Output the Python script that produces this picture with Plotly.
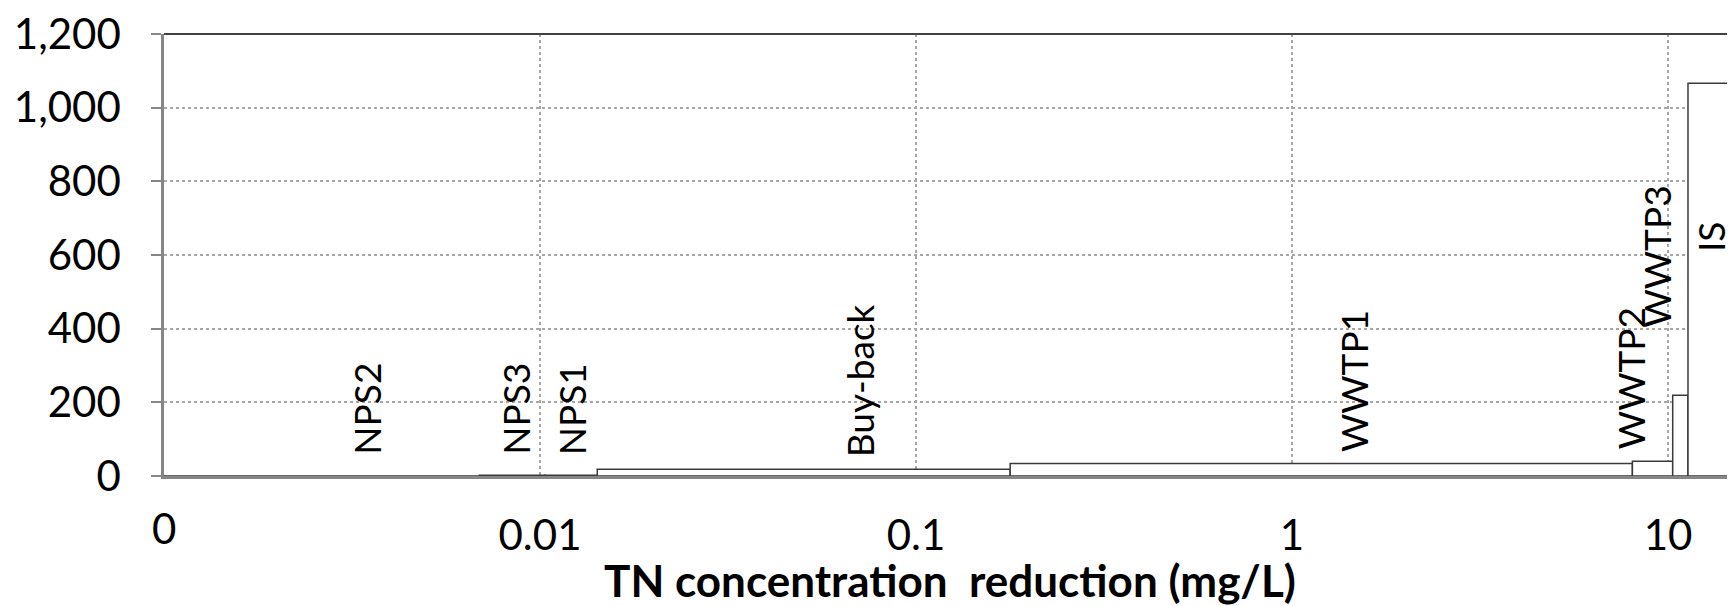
import math
import plotly.graph_objects as go

# ---------------- data ----------------
names = ["NPS2", "NPS3", "NPS1", "Buy-back", "WWTP1", "WWTP2", "WWTP3", "IS"]
cum_reduction = [0.0069, 0.0103, 0.0142, 0.178, 8.04, 10.29, 11.3, 15.07]   # mg/L, cumulative
unit_cost = [0, 2, 2, 18, 34, 40, 219, 1066]
label_x = [0.00346, 0.00862, 0.01219, 0.0705, 1.462, 7.96, 9.33, 12.99]
label_y = [182, 182, 182, 260, 258, 265, 595, 648]
x_tickvals = [0.01, 0.1, 1, 10]
x_ticktext = ["0.01", "0.1", "1", "10"]
y_tickvals = [0, 200, 400, 600, 800, 1000, 1200]
X_MIN = 0.001          # left end of the log axis, labelled "0"
X_MAX = 15.07
x_title = "TN concentration \u00a0reduction (mg/L)"

FONT = "Lato, 'Open Sans', sans-serif"
GRID = "#a6a6a6"
AXIS = "#868686"
EDGE = "#3a3a3a"
TICK_SIZE = 42

fig = go.Figure()

for i, name in enumerate(names):
    x0 = cum_reduction[i - 1] if i > 0 else X_MIN
    x1 = cum_reduction[i]
    v = unit_cost[i]
    fig.add_trace(go.Scatter(
        x=[x0, x0, x1, x1, x0], y=[0, v, v, 0, 0],
        mode="lines", fill="toself", fillcolor="white",
        line=dict(color=EDGE, width=1.5),
        name=name, showlegend=False, hoverinfo="skip"))

for name, lx, ly in zip(names, label_x, label_y):
    fig.add_annotation(x=math.log10(lx), y=ly, xref="x", yref="y",
                       text=name, textangle=-90, showarrow=False,
                       xanchor="center", yanchor="middle",
                       font=dict(family=FONT, size=37, color="black"))

# "0" label at the left end of the log axis
fig.add_annotation(x=math.log10(X_MIN), y=-0.118, xref="x", yref="paper",
                   text="0", showarrow=False, xanchor="center", yanchor="middle",
                   font=dict(family=FONT, size=TICK_SIZE, color="black"))

# x-axis title
fig.add_annotation(x=0.5, y=-0.236, xref="paper", yref="paper",
                   text=x_title, showarrow=False, xanchor="center", yanchor="middle",
                   font=dict(family=FONT, size=44, color="black", weight="bold"))

# top border line
fig.add_shape(type="line", xref="paper", yref="paper", x0=0, x1=1, y0=1, y1=1,
              line=dict(color="#404040", width=2))

fig.update_layout(
    width=1727, height=598,
    margin=dict(l=156, r=0, t=17, b=130),
    paper_bgcolor="white", plot_bgcolor="white",
    font=dict(family=FONT, color="black"),
    xaxis=dict(type="log", range=[math.log10(X_MIN), math.log10(X_MAX)],
               tickvals=x_tickvals, ticktext=x_ticktext,
               showgrid=True, gridcolor=GRID, griddash="dot", gridwidth=1.5,
               showline=True, linecolor=AXIS, linewidth=2.5,
               ticks="", ticklabelstandoff=21, ticklabeloverflow="allow",
               tickfont=dict(family=FONT, size=TICK_SIZE, color="black"),
               zeroline=False),
    yaxis=dict(range=[0, 1200], tickvals=y_tickvals, tickformat=",",
               showgrid=True, gridcolor=GRID, griddash="dot", gridwidth=1.5,
               showline=True, linecolor=AXIS, linewidth=2.5,
               ticks="outside", ticklen=10, tickcolor=AXIS, tickwidth=2,
               ticklabelstandoff=22, ticklabeloverflow="allow",
               tickfont=dict(family=FONT, size=TICK_SIZE, color="black"),
               zeroline=False),
)

fig.write_html("out.html")
